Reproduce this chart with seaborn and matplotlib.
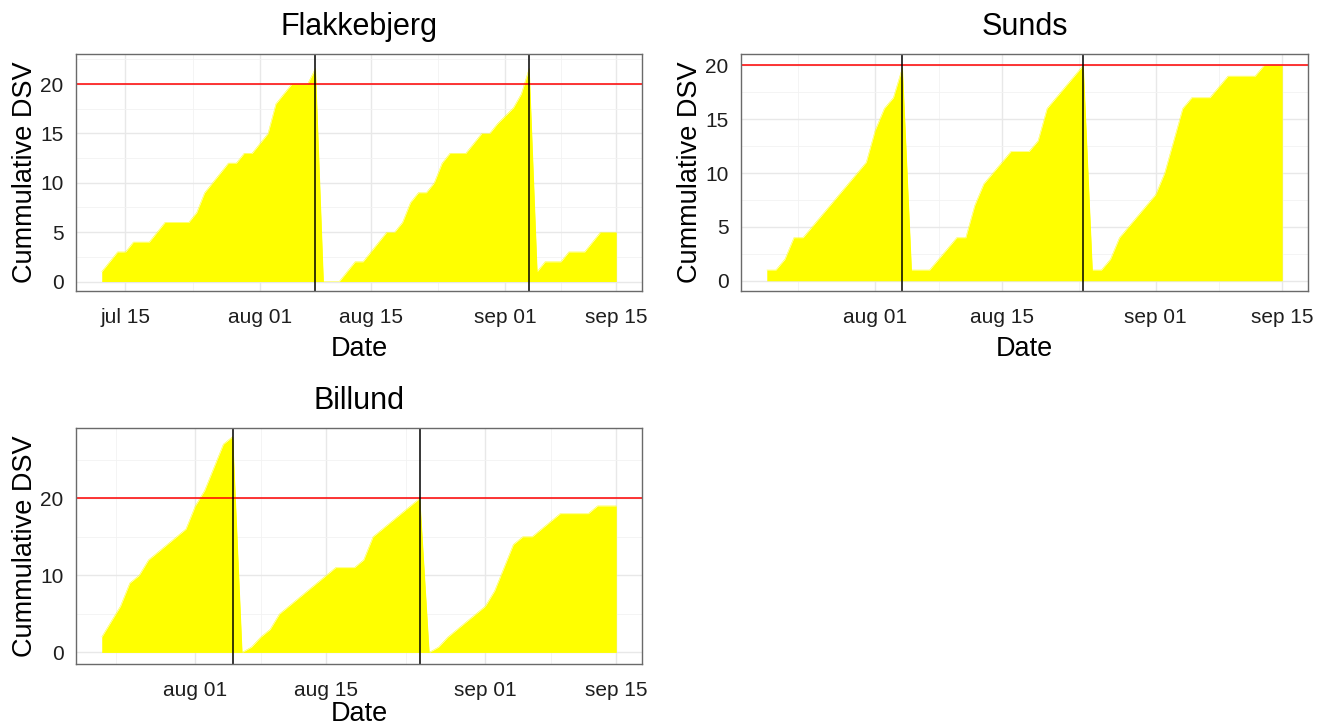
import numpy as np
import pandas as pd
import matplotlib
matplotlib.use("Agg")
import matplotlib.pyplot as plt
import matplotlib.dates as mdates
from matplotlib.ticker import FuncFormatter, FixedLocator
import seaborn as sns

# ---------------- data ----------------
YEAR = 2017
flak_start = f"{YEAR}-07-12"
flak_dsv = [1, 2, 3, 3, 4, 4, 4, 5, 6, 6, 6, 6, 7, 9, 10, 11, 12, 12, 13, 13,
            14, 15, 18, 19, 20, 20, 20, 21.6, 0, 0, 0, 1, 2, 2, 3, 4, 5, 5, 6, 8,
            9, 9, 10, 12, 13, 13, 13, 14, 15, 15, 16,
            16.8, 17.6, 19, 21.6, 1, 2, 2, 2, 3, 3, 3, 4, 5, 5, 5]
flak_vlines = [f"{YEAR}-08-08", f"{YEAR}-09-04"]

sunds_start = f"{YEAR}-07-20"
sunds_dsv = [1, 1, 2, 4, 4, 5, 6, 7, 8, 9, 10, 11,
             14, 16, 17, 19.8, 1, 1, 1, 2, 3, 4, 4, 7, 9, 10, 11, 12, 12, 12, 13,
             16, 17, 18, 19, 20, 1, 1, 2, 4, 5, 6, 7,
             8, 10, 13, 16, 17, 17, 17, 18, 19, 19, 19, 19, 20, 20, 20]
sunds_vlines = [f"{YEAR}-08-04", f"{YEAR}-08-24"]

billund_start = f"{YEAR}-07-22"
billund_dsv = [2, 4, 6, 9, 10, 12, 13, 14, 15, 16,
               19, 21, 24, 27, 28, 0, 0.7, 2, 3, 5, 6, 7, 8, 9, 10, 11, 11, 11, 12,
               15, 16, 17, 18, 19, 20, 0, 0.7, 2, 3, 4, 5,
               6, 8, 11, 14, 15, 15, 16, 17, 18, 18, 18, 18, 19, 19, 19]
billund_vlines = [f"{YEAR}-08-05", f"{YEAR}-08-25"]

threshold = 20
stations = ["Flakkebjerg", "Sunds", "Billund"]

x_breaks = {
    "Flakkebjerg": ["07-15", "08-01", "08-15", "09-01", "09-15"],
    "Sunds": ["08-01", "08-15", "09-01", "09-15"],
    "Billund": ["08-01", "08-15", "09-01", "09-15"],
}
x_minor = {
    "Flakkebjerg": ["07-23 12:00", "08-08", "08-23 12:00", "09-08"],
    "Sunds": ["07-23 12:00", "08-08", "08-23 12:00", "09-08"],
    "Billund": ["07-23 12:00", "08-08", "08-23 12:00", "09-08"],
}
y_breaks = {"Flakkebjerg": [0, 5, 10, 15, 20], "Sunds": [0, 5, 10, 15, 20],
            "Billund": [0, 10, 20]}
y_minor = {"Flakkebjerg": [2.5, 7.5, 12.5, 17.5, 22.5],
           "Sunds": [2.5, 7.5, 12.5, 17.5], "Billund": [5, 15, 25]}
y_limits = {"Flakkebjerg": (-0.96, 23.05), "Sunds": (-0.95, 21.05),
            "Billund": (-1.5, 29.1)}

frames = []
for name, start, vals in [("Flakkebjerg", flak_start, flak_dsv),
                          ("Sunds", sunds_start, sunds_dsv),
                          ("Billund", billund_start, billund_dsv)]:
    frames.append(pd.DataFrame({
        "Station": name,
        "Date": pd.date_range(start, periods=len(vals), freq="D"),
        "DSV": vals,
    }))
df = pd.concat(frames, ignore_index=True)
vlines = {"Flakkebjerg": flak_vlines, "Sunds": sunds_vlines, "Billund": billund_vlines}

# ---------------- style ----------------
sns.set_theme(style="white")
plt.rcParams["font.family"] = ["Liberation Sans", "DejaVu Sans"]

W, H = 1317, 728
fig = plt.figure(figsize=(W / 100, H / 100), dpi=100)

boxes = {"Flakkebjerg": (76, 54, 642, 291),
         "Sunds": (741, 54, 1308, 291),
         "Billund": (76, 428, 642, 664)}
xlabel_baseline = {"Flakkebjerg": 356, "Sunds": 356, "Billund": 721}

def lower_date(x, pos=None):
    return mdates.num2date(x).strftime("%b %d").lower()

for name in stations:
    l, t, r, b = boxes[name]
    ax = fig.add_axes([l / W, 1 - b / H, (r - l) / W, (b - t) / H])
    d = df[df["Station"] == name]
    ax.fill_between(d["Date"], 0, d["DSV"], color="#FFFF00", lw=0, zorder=1)
    sns.lineplot(data=d, x="Date", y="DSV", ax=ax, color="#FFFF00", lw=0.3,
                 zorder=1.1)
    ax.axhline(threshold, color="#FF0000", lw=1.1, zorder=3)
    for v in vlines[name]:
        ax.axvline(pd.Timestamp(v), color="black", lw=1.1, zorder=3.5)

    # limits with ggplot-like 5% expansion on x
    x0 = mdates.date2num(d["Date"].min())
    x1 = mdates.date2num(d["Date"].max())
    span = x1 - x0
    ax.set_xlim(x0 - 0.05 * span, x1 + 0.05 * span)
    ax.set_ylim(*y_limits[name])

    ax.xaxis.set_major_locator(FixedLocator(
        [mdates.date2num(pd.Timestamp(f"{YEAR}-{s}")) for s in x_breaks[name]]))
    ax.xaxis.set_minor_locator(FixedLocator(
        [mdates.date2num(pd.Timestamp(f"{YEAR}-{s}")) for s in x_minor[name]]))
    ax.xaxis.set_major_formatter(FuncFormatter(lower_date))
    ax.yaxis.set_major_locator(FixedLocator(y_breaks[name]))
    ax.yaxis.set_minor_locator(FixedLocator(y_minor[name]))

    ax.set_axisbelow(True)
    ax.grid(which="major", color="#E8E8E8", lw=1.0)
    ax.grid(which="minor", color="#F2F2F2", lw=0.6)
    ax.set_facecolor("white")
    for s in ax.spines.values():
        s.set_color("#6A6A6A")
        s.set_linewidth(1.0)
        s.set_zorder(4)

    ax.tick_params(axis="both", which="major", length=4.5, width=0.9,
                   color="#333333", labelcolor="#1E1E1E", labelsize=15)
    ax.tick_params(axis="x", which="major", pad=7.5)
    ax.tick_params(axis="y", which="major", pad=4.5)
    ax.tick_params(which="minor", length=0)

    ax.set_title(name, fontsize=22, color="black", pad=13.5)
    ax.set_xlabel("Date", fontsize=19.5, color="black", va="baseline")
    ax.xaxis.set_label_coords(0.5, -(xlabel_baseline[name] - b) / (b - t))
    ax.set_ylabel("Cummulative DSV", fontsize=19.5, color="black",
                  va="baseline", ha="center")
    ax.yaxis.set_label_coords(-(44) / (r - l), 0.5)

fig.savefig("out.png", dpi=100, facecolor="white")
